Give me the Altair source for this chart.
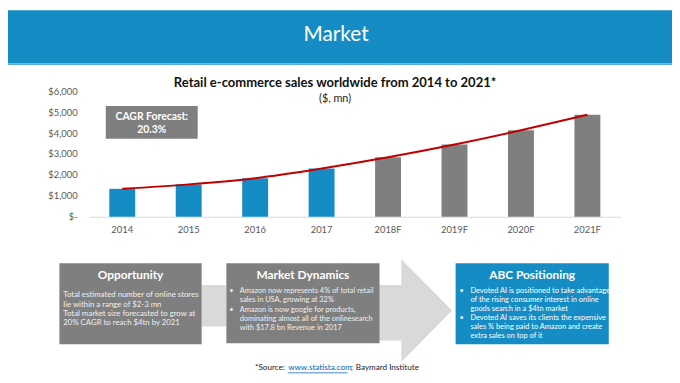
import altair as alt
import pandas as pd

# ---------------- data ----------------
years = ["2014", "2015", "2016", "2017", "2018F", "2019F", "2020F", "2021F"]
sales = [1336, 1548, 1845, 2304, 2842, 3453, 4135, 4878]
kind = ["Actual", "Actual", "Actual", "Actual", "Forecast", "Forecast", "Forecast", "Forecast"]
y_ticks = [0, 1000, 2000, 3000, 4000, 5000, 6000]

slide_title = "Market"
chart_title = "Retail e-commerce sales worldwide from 2014 to 2021*"
chart_subtitle = "($, mn)"
cagr_lines = ["CAGR Forecast:", "20.3%"]

opp_title = "Opportunity"
opp_lines = ["Total estimated number of online stores",
             "lie within a range of $2-3  mn",
             "Total market size forecasted to grow at",
             "20% CAGR to reach $4tn  by 2021"]
md_title = "Market Dynamics"
md_lines = ["Amazon now represents 4% of total retail",
            "sales in USA, growing at 32%",
            "Amazon is now google for products,",
            "dominating almost all of the onlinesearch",
            "with $17.8  bn Revenue in 2017"]
md_bullets = [0, 2]
abc_title = "ABC Positioning"
abc_lines = ["Devoted AI is positioned to take advantage",
             "of the rising consumer interest in online",
             "goods search in a  $4tn  market",
             "Devoted AI saves its clients the expensive",
             "sales % being paid to Amazon and create",
             "extra sales on top of it"]
abc_bullets = [0, 3]
source_parts = ["*Source:", "www.statista.com", ";", "Baymard Institute"]

df = pd.DataFrame({"year": years, "sales": sales, "kind": kind})

# ---------------- style ----------------
FONT = "Lato"
BLUE = "#168CC4"
GREY = "#7F7F7F"
LIGHT = "#D9D9D9"
RED = "#C00000"
BODY = "#EFEFEF"
WHITE = "#FFFFFF"

OX, OY = 90, 90  # plot-area origin in page coordinates


def px(x):
    return x - OX


def py(y):
    return y - OY


one = pd.DataFrame({"k": [0]})


def rect(x1, y1, x2, y2, color):
    return alt.Chart(one).mark_rect(color=color, strokeWidth=0).encode(
        x=alt.value(px(x1)), x2=alt.value(px(x2)),
        y=alt.value(py(y1)), y2=alt.value(py(y2)))


def text(s, x, y, size, color="#000000", weight="normal", align="center"):
    return alt.Chart(one).mark_text(
        text=s, fontSize=size, font=FONT, fontWeight=weight, color=color,
        align=align, baseline="middle").encode(x=alt.value(px(x)), y=alt.value(py(y)))


layers = []
# banner
layers.append(rect(8, 8, 680, 62, BLUE))
layers.append(rect(8, 62, 680, 63.5, "#5FB0D8"))
layers.append(text(slide_title, 340, 33, 21, WHITE))

# ---------------- bars + trend ----------------
xenc = alt.X("year:N", sort=years,
             scale=alt.Scale(paddingInner=0.61, paddingOuter=0.305),
             axis=alt.Axis(title=None, labelAngle=0, labelFont=FONT, labelFontSize=9.5,
                           labelColor="#595959", ticks=False, domainColor=LIGHT,
                           labelPadding=8, grid=False))
yenc = alt.Y("sales:Q", scale=alt.Scale(domain=[0, 6000]),
             axis=alt.Axis(title=None, values=y_ticks, tickCount=7, grid=False, domain=False,
                           ticks=False, labelFont=FONT, labelFontSize=9.5, labelColor="#595959",
                           labelPadding=12, labelOverlap=False,
                           labelExpr="datum.value == 0 ? '$-' : '$' + format(datum.value, ',')"))

bars = alt.Chart(df).mark_bar().encode(
    x=xenc, y=yenc,
    color=alt.Color("kind:N", scale=alt.Scale(domain=["Actual", "Forecast"], range=[BLUE, GREY]),
                    legend=None))
trend = alt.Chart(df).mark_line(color=RED, strokeWidth=2, interpolate="monotone").encode(
    x=xenc, y=yenc)
layers += [bars, trend]

# plain white edges around the plot area (no frame)
layers.append(rect(88, 88.5, 631, 91.2, WHITE))
layers.append(rect(88, 88.5, 91.2, 215.5, WHITE))
layers.append(rect(626.8, 88.5, 631, 215.5, WHITE))

# chart titles
layers.append(text(chart_title, 339, 82, 13.2, "#111111", "bold"))
layers.append(text(chart_subtitle, 339, 98, 11, "#222222"))

# CAGR box
layers.append(rect(107, 105, 200, 138, GREY))
layers.append(text(cagr_lines[0], 153.5, 116, 10.5, WHITE, "bold"))
layers.append(text(cagr_lines[1], 153.5, 129.5, 10.5, WHITE, "bold"))

# ---------------- bottom panel ----------------
arrow_path = "M-0.69,-0.5L0,-0.5L0,-1L0.99,0L0,1L0,0.58L-0.69,0.58Z"
layers.append(alt.Chart(one).mark_point(shape=arrow_path, filled=True, size=104 * 104,
                                        color=LIGHT, opacity=1, strokeWidth=0).encode(
    x=alt.value(px(406)), y=alt.value(py(312))))
layers.append(rect(204, 286, 229, 328, LIGHT))

# boxes
layers.append(rect(60, 264, 204, 346, GREY))
layers.append(rect(229, 264, 384, 345, GREY))
layers.append(rect(461, 264, 616, 346, BLUE))

layers.append(text(opp_title, 132, 276.5, 12, WHITE, "bold"))
layers.append(text(md_title, 306.5, 276.5, 12, WHITE, "bold"))
layers.append(text(abc_title, 538.5, 276, 12, WHITE, "bold"))

BS = 7.5
opp_y = [296.5, 306, 315.5, 325]
for s, yy in zip(opp_lines, opp_y):
    layers.append(text(s, 64, yy, 7.9, BODY, align="left"))

md_y = [292, 301.5, 311, 320.5, 330]
for i, (s, yy) in enumerate(zip(md_lines, md_y)):
    layers.append(text(s, 242.5, yy, BS, BODY, align="left"))
    if i in md_bullets:
        layers.append(text("\u2022", 234, yy, BS, BODY))

abc_y = [292, 301.2, 310.4, 319.6, 328.8, 338]
for i, (s, yy) in enumerate(zip(abc_lines, abc_y)):
    layers.append(text(s, 476, yy, BS, WHITE, align="left"))
    if i in abc_bullets:
        layers.append(text("\u2022", 467, yy, BS, WHITE))

# source line
SS = 8.2
layers.append(text(source_parts[0], 258, 370.5, SS, "#222222", align="left"))
layers.append(text(source_parts[1], 291.5, 370.5, SS, "#0563C1", align="left"))
layers.append(rect(291.5, 374.7, 351.5, 375.4, "#0563C1"))
layers.append(text(source_parts[2], 355, 370.5, SS, "#222222", align="left"))
layers.append(text(source_parts[3], 360, 370.5, SS, "#222222", align="left"))

chart = alt.layer(*layers).properties(
    width=538, height=127,
    padding={"left": 82, "top": 82, "right": 52, "bottom": 166},
    autosize=alt.AutoSizeParams(type="none"),
    view=alt.ViewBackground(stroke="transparent", strokeWidth=0),
).configure(
    background=WHITE,
    style={"cell": {"stroke": "transparent", "strokeWidth": 0}},
).configure_view(stroke="transparent", strokeWidth=0).configure_axis(grid=False)

chart.save("out.html", embed_options={"renderer": "svg", "actions": False})
